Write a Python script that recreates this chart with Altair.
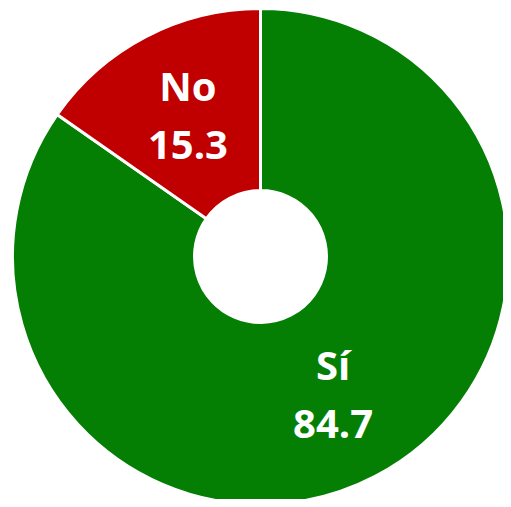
import altair as alt
import pandas as pd

categories = ["Sí", "No"]
values = [84.7, 15.3]
value_labels = ["84.7", "15.3"]
colors = ["#047F04", "#C00000"]

df = pd.DataFrame({
    "cat": categories,
    "val": values,
    "label": [f"{c}\n{v}" for c, v in zip(categories, value_labels)],
    "order": list(range(len(categories))),
})

base = alt.Chart(df).encode(
    theta=alt.Theta("val:Q", stack=True),
    order=alt.Order("order:Q"),
)

arcs = base.mark_arc(
    outerRadius=248, innerRadius=66, stroke="white", strokeWidth=3
).encode(
    color=alt.Color("cat:N", scale=alt.Scale(domain=categories, range=colors), legend=None),
)

texts = base.mark_text(
    radius=157, dy=-28, fontSize=40, fontWeight="bold", font="Open Sans",
    color="white", lineBreak="\n", lineHeight=58, baseline="middle", align="center",
).encode(
    text="label:N",
)

chart = (arcs + texts).properties(
    width=485, height=485,
    padding={"left": 10, "top": 6, "right": 0, "bottom": 0},
    background="white",
    autosize=alt.AutoSizeParams(type="none"),
).configure_view(stroke=None)

chart.save("out.html", embed_options={"renderer": "svg", "actions": False})
